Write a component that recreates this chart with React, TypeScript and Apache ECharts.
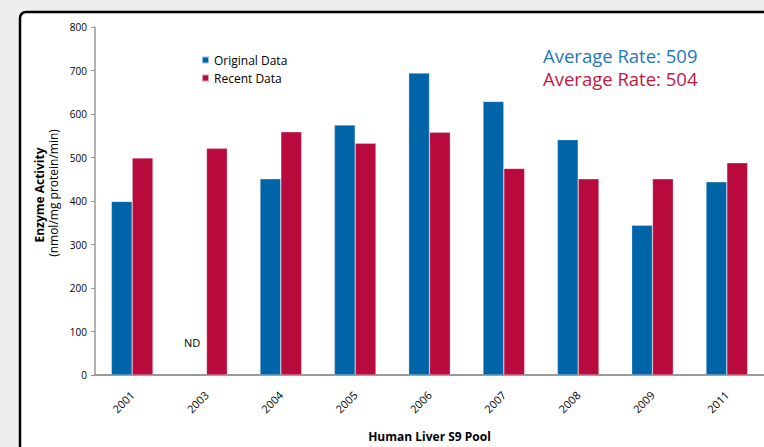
import React, { useEffect, useRef } from "react";
import * as echarts from "echarts";

const categories = ["2001", "2003", "2004", "2005", "2006", "2007", "2008", "2009", "2011"];
const originalData: (number | null)[] = [399, null, 451, 575, 694, 629, 541, 344, 444];
const recentData: number[] = [499, 521, 559, 533, 558, 475, 451, 451, 488];
const yTicks = { min: 0, max: 800, interval: 100 };
const averageOriginal = 509;
const averageRecent = 504;

const BLUE = "#0064a8";
const RED = "#b80a3c";
const FONT = "'Open Sans', 'Liberation Sans', sans-serif";

export default function App() {
  const ref = useRef<HTMLDivElement>(null);
  useEffect(() => {
    if (!ref.current) return;
    const chart = echarts.init(ref.current, undefined, { renderer: "svg" });
    chart.setOption({
      animation: false,
      backgroundColor: "#eeeeee",
      textStyle: { fontFamily: FONT },
      graphic: [
        {
          type: "rect",
          z: -10,
          shape: { x: 20, y: 12, width: 800, height: 500, r: 6 },
          style: { fill: "#ffffff", stroke: "#000000", lineWidth: 2.5 },
        },
        {
          type: "text",
          x: 39,
          y: 195,
          rotation: Math.PI / 2,
          style: {
            text: "Enzyme Activity",
            font: `bold 12px ${FONT}`,
            fill: "#000",
            align: "center",
            verticalAlign: "middle",
          },
        },
        {
          type: "text",
          x: 53,
          y: 193,
          rotation: Math.PI / 2,
          style: {
            text: "(nmol/mg protein/min)",
            font: `12px ${FONT}`,
            fill: "#000",
            align: "center",
            verticalAlign: "middle",
          },
        },
        {
          type: "text",
          x: 192,
          y: 342,
          z: 100,
          style: {
            text: "ND",
            font: `11px ${FONT}`,
            fill: "#000",
            align: "center",
            verticalAlign: "middle",
          },
        },
        {
          type: "text",
          x: 543,
          y: 55,
          style: {
            text: `Average Rate: ${averageOriginal}`,
            font: `18.5px ${FONT}`,
            fill: "#1f77bc",
            verticalAlign: "middle",
          },
        },
        {
          type: "text",
          x: 543,
          y: 78,
          style: {
            text: `Average Rate: ${averageRecent}`,
            font: `18.5px ${FONT}`,
            fill: "#c4163f",
            verticalAlign: "middle",
          },
        },
      ],
      legend: {
        orient: "vertical",
        left: 196,
        top: 48,
        itemWidth: 7,
        itemHeight: 7,
        itemGap: 4,
        icon: "rect",
        textStyle: { fontSize: 12, color: "#000", fontFamily: FONT, lineHeight: 14 },
        data: ["Original Data", "Recent Data"],
      },
      grid: { left: 95, top: 27, width: 675, height: 352, containLabel: false },
      xAxis: {
        type: "category",
        data: categories,
        name: "Human Liver S9 Pool",
        nameLocation: "middle",
        nameGap: 55,
        nameTextStyle: { fontWeight: "bold", fontSize: 12, color: "#000", fontFamily: FONT },
        axisLine: { lineStyle: { color: "#999999", width: 2 } },
        axisTick: { show: false },
        axisLabel: { rotate: 45, margin: 18, fontSize: 11, color: "#000", fontFamily: FONT },
      },
      yAxis: {
        type: "value",
        min: yTicks.min,
        max: yTicks.max,
        interval: yTicks.interval,
        splitLine: { show: false },
        axisLine: { show: true, lineStyle: { color: "#999999", width: 1.5 } },
        axisTick: { show: true, length: 4, lineStyle: { color: "#999999" } },
        axisLabel: { margin: 8, fontSize: 10, color: "#000", fontFamily: FONT },
      },
      series: [
        {
          name: "Original Data",
          type: "bar",
          data: originalData,
          barGap: "0%",
          barCategoryGap: "44%",
          itemStyle: { color: BLUE, borderColor: "rgba(255,255,255,0.6)", borderWidth: 0.5 },
        },
        {
          name: "Recent Data",
          type: "bar",
          data: recentData,
          itemStyle: { color: RED, borderColor: "rgba(255,255,255,0.6)", borderWidth: 0.5 },
        },
      ],
    });
    return () => chart.dispose();
  }, []);
  return (
    <div
      ref={ref}
      style={{ position: "fixed", left: 0, top: 0, width: 764, height: 447 }}
    />
  );
}
